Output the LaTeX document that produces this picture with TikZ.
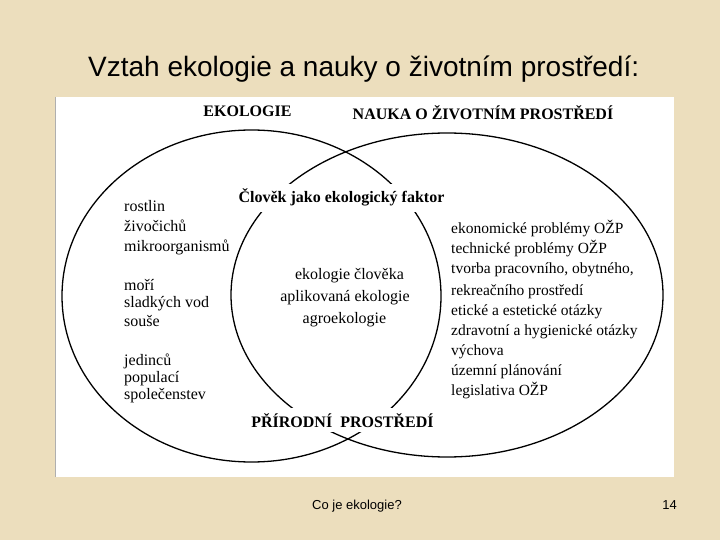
\documentclass[tikz,border=0pt]{standalone}
\usepackage{fontspec}
\setmainfont{Liberation Serif}
\newfontfamily\arialfont{Liberation Sans}
\usetikzlibrary{shapes.geometric}
\definecolor{bgbeige}{RGB}{236,222,189}
\definecolor{panelgray}{RGB}{175,175,175}
\begin{document}
\begin{tikzpicture}[x=1bp,y=-1bp,
  titletext/.style={font=\arialfont\fontsize{28bp}{32bp}\selectfont, inner sep=0, anchor=base west},
  foottext/.style={font=\arialfont\fontsize{13bp}{15bp}\selectfont, inner sep=0},
  headtext/.style={font=\bfseries\fontsize{16bp}{19bp}\selectfont, inner sep=0, anchor=base},
  maskedhead/.style={headtext, fill=white, inner xsep=2bp, inner ysep=5bp},
  listtext/.style={font=\fontsize{15.5bp}{18bp}\selectfont, inner sep=0, anchor=base west},
  leftlist/.style={font=\fontsize{16bp}{18bp}\selectfont, inner sep=0, anchor=base west},
  midtext/.style={font=\fontsize{16bp}{18bp}\selectfont, inner sep=0, anchor=base},
  venn/.style={ellipse, draw=black, line width=1.3bp, inner sep=0, outer sep=0}
]
\useasboundingbox (0,0) rectangle (720,540);
\fill[bgbeige] (0,0) rectangle (720,540);
% white panel
\fill[white] (55,97) rectangle (674,477);
\draw[panelgray, line width=1bp] (55.5,97) -- (55.5,477);

% title and footer
\node[titletext] (title) at (88,77) {Vztah ekologie a nauky o životním prostředí:};
\node[foottext, anchor=base west] (foot) at (312,509) {Co je ekologie?};
\node[foottext, anchor=base east] (page) at (677,509) {14};

% ellipses
\node[venn, minimum width=379bp, minimum height=332bp] (ekol) at (251.5,296) {};
\node[venn, minimum width=432bp, minimum height=324bp] (nauka) at (447,295) {};

% headings
\node[headtext] (hekol) at (247.5,117) {EKOLOGIE};
\node[headtext] (hnauka) at (483,120) {NAUKA O ŽIVOTNÍM PROSTŘEDÍ};
\node[maskedhead] (hclovek) at (341.5,203) {Člověk jako ekologický faktor};
\node[maskedhead] (hpriroda) at (342.5,427) {PŘÍRODNÍ\hspace{0.5em}PROSTŘEDÍ};

% left list
\node[leftlist] (l1) at (124,212) {rostlin};
\node[leftlist] (l2) at (124,232) {živočichů};
\node[leftlist] (l3) at (124,252) {mikroorganismů};
\node[leftlist] (l4) at (124,290) {moří};
\node[leftlist] (l5) at (124,307.5) {sladkých vod};
\node[leftlist] (l6) at (124,326) {souše};
\node[leftlist] (l7) at (124,365) {jedinců};
\node[leftlist] (l8) at (124,382) {populací};
\node[leftlist] (l9) at (124,399) {společenstev};

% middle list
\node[midtext] (m1) at (349.5,280) {ekologie člověka};
\node[midtext] (m2) at (345,301.5) {aplikovaná ekologie};
\node[midtext] (m3) at (344.5,323) {agroekologie};

% right list
\node[listtext] (r1) at (451,234) {ekonomické problémy OŽP};
\node[listtext] (r2) at (451,254) {technické problémy OŽP};
\node[listtext] (r3) at (451,274) {tvorba pracovního, obytného,};
\node[listtext] (r4) at (451,295) {rekreačního prostředí};
\node[listtext] (r5) at (451,315) {etické a estetické otázky};
\node[listtext] (r6) at (451,335) {zdravotní a hygienické otázky};
\node[listtext] (r7) at (451,355) {výchova};
\node[listtext] (r8) at (451,375) {územní plánování};
\node[listtext] (r9) at (451,395) {legislativa OŽP};
\end{tikzpicture}
\end{document}
